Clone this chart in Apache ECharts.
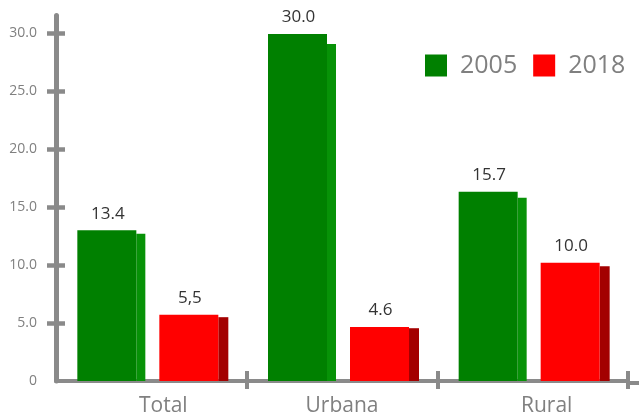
<!DOCTYPE html>
<html><head><meta charset="utf-8">
<script src="https://cdn.jsdelivr.net/npm/echarts@6/dist/echarts.min.js"></script>
<style>html,body{margin:0;padding:0;background:#fff}#c{width:639px;height:417px}</style>
</head><body><div id="c"></div>
<script>
// ---- data ----
const categories = ['Total', 'Urbana', 'Rural'];
const seriesNames = ['2005', '2018'];
const front2005 = [13.0, 29.9, 16.3];
const side2005 = [12.7, 29.05, 15.8];
const labels2005 = ['13.4', '30.0', '15.7'];
const front2018 = [5.7, 4.65, 10.2];
const side2018 = [5.5, 4.55, 9.9];
const labels2018 = ['5,5', '4.6', '10.0'];
const yTicks = [0, 5, 10, 15, 20, 25, 30];
const yTickLabels = ['0', '5.0', '10.0', '15.0', '20.0', '25.0', '30.0'];

const FONT = 'Open Sans';
const AX = '#8a8a8a';
const yTickMarks = yTicks.filter(function (v) { return v !== 0; });

function makeRender(labels, frontColor, sideColor, dx, sideW) {
  return function (params, api) {
    const i = api.value(0);
    const base = api.coord([i, 0]);
    const tf = api.coord([i, api.value(1)]);
    const ts = api.coord([i, api.value(2)]);
    const fw = 59;
    const fl = base[0] + dx;
    return {
      type: 'group',
      children: [
        { type: 'rect', shape: { x: fl + fw, y: ts[1], width: sideW, height: base[1] - ts[1] }, style: { fill: sideColor } },
        { type: 'rect', shape: { x: fl, y: tf[1], width: fw, height: base[1] - tf[1] }, style: { fill: frontColor } },
        { type: 'text', style: { text: labels[i], x: fl + fw / 2 + 1, y: tf[1] - 8, align: 'center', verticalAlign: 'bottom',
            font: '17px "' + FONT + '"', fill: '#333333' } }
      ]
    };
  };
}

const chart = echarts.init(document.getElementById('c'), null, { renderer: 'canvas' });
const yBase = {
  type: 'value', min: 0, max: 31.5, position: 'left', offset: 0,
  splitLine: { show: false }
};
const xBase = { type: 'category', data: categories, position: 'bottom', boundaryGap: true };
chart.setOption({
  animation: false,
  backgroundColor: '#ffffff',
  grid: { left: 56, right: 11, top: 15.5, bottom: 34, containLabel: false },
  legend: {
    left: 420, top: 48, itemWidth: 22, itemHeight: 22, itemGap: 16,
    data: [{ name: seriesNames[0], icon: 'rect' }, { name: seriesNames[1], icon: 'rect' }],
    textStyle: { fontFamily: FONT, fontSize: 25, color: '#808080', padding: [0, 0, 0, 8] }
  },
  xAxis: [
    Object.assign({}, xBase, {
      axisLine: { show: true, lineStyle: { color: AX, width: 4 } },
      axisTick: { show: true, length: 8, lineStyle: { color: AX, width: 4 }, interval: function (idx) { return idx !== 0; } },
      axisLabel: {
        margin: 15, fontFamily: FONT, fontSize: 21, color: '#808080',
        formatter: function (v) { return v === 'Total' ? '{t|' + v + '}' : (v === 'Rural' ? '{r|' + v + '}' : '{u|' + v + '}'); },
        rich: {
          t: { fontFamily: FONT, fontSize: 21, color: '#808080', padding: [0, 0, 0, 24] },
          u: { fontFamily: FONT, fontSize: 21, color: '#808080' },
          r: { fontFamily: FONT, fontSize: 21, color: '#808080', padding: [0, 0, 0, 28] }
        }
      }
    }),
    Object.assign({}, xBase, {
      axisLine: { show: false },
      axisTick: { show: true, inside: true, length: 10, lineStyle: { color: AX, width: 4 }, interval: function (idx) { return idx !== 0; } },
      axisLabel: { show: false }
    })
  ],
  yAxis: [
    Object.assign({}, yBase, {
      axisLine: { show: true, lineStyle: { color: AX, width: 5 } },
      axisTick: { show: true, length: 9, customValues: yTickMarks, lineStyle: { color: AX, width: 4.5 } },
      axisLabel: {
        margin: 19, fontFamily: FONT, fontSize: 14, color: '#808080', customValues: yTicks,
        formatter: function (v) { const k = yTicks.indexOf(v); return k >= 0 ? yTickLabels[k] : ''; }
      }
    }),
    Object.assign({}, yBase, {
      axisLine: { show: false },
      axisTick: { show: true, inside: true, length: 9, customValues: yTickMarks, lineStyle: { color: AX, width: 4.5 } },
      axisLabel: { show: false }
    })
  ],
  graphic: [
    { type: 'rect', shape: { x: 628, y: 381, width: 11, height: 4 }, style: { fill: AX } }
  ],
  series: [
    {
      name: seriesNames[0], type: 'custom', xAxisIndex: 0, yAxisIndex: 0,
      itemStyle: { color: '#008000' },
      renderItem: makeRender(labels2005, '#008000', '#079207', -74, 9),
      encode: { x: 0, y: [1, 2] },
      data: categories.map(function (c, i) { return [i, front2005[i], side2005[i]]; })
    },
    {
      name: seriesNames[1], type: 'custom', xAxisIndex: 0, yAxisIndex: 0,
      itemStyle: { color: '#ff0000' },
      renderItem: makeRender(labels2018, '#ff0000', '#a30000', 8, 10),
      encode: { x: 0, y: [1, 2] },
      data: categories.map(function (c, i) { return [i, front2018[i], side2018[i]]; })
    }
  ]
});
</script>
</body></html>
